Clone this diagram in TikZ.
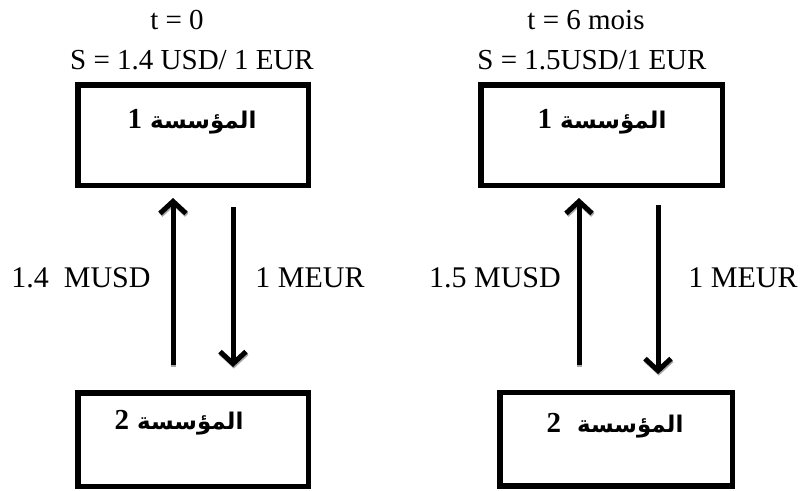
\documentclass[tikz,border=0pt]{standalone}
\usepackage{fontspec}
\setmainfont{Liberation Serif}
\newfontfamily\arabicfont[Script=Arabic]{DejaVu Sans}
\TeXXeTstate=1
\usetikzlibrary{arrows.meta}

\tikzset{
  firm/.style={draw, line width=5.5pt, inner sep=0pt, outer sep=0pt},
  firmname/.style={font=\fontsize{23}{27}\selectfont\arabicfont\bfseries, inner sep=0pt},
  header/.style={font=\fontsize{29}{33}\selectfont, inner sep=0pt},
  amount/.style={font=\fontsize{30}{34}\selectfont, inner sep=0pt},
  barb/.style={-{Straight Barb[length=12pt,width=26pt,line width=5pt]}},
  flow/.style={line width=5pt, barb},
  flowshadow/.style={line width=5pt, draw=black!35, barb}
}
% firm name: Arabic word followed (on its left) by a bold serif digit
\newcommand{\firmlabel}[2][]{\beginR المؤسسة #1{\fontsize{29}{33}\selectfont\rmfamily\bfseries #2}\endR}

\begin{document}
\begin{tikzpicture}[x=1pt, y=-1pt]
  \useasboundingbox (0,0) rectangle (800,490);

  % ---- t = 0 ----
  \node[header] (tA) at (177,20) {t = 0};
  \node[header] (sA) at (192,60) {S = 1.4 USD/ 1 EUR};
  \node[firm, minimum width=230.5pt, minimum height=100.5pt] (A1) at (193,135) {};
  \node[firm, minimum width=230.5pt, minimum height=93.5pt] (A2) at (193,439.5) {};
  \node[firmname] (A1n) at (192,122) {\firmlabel{1}};
  \node[firmname] (A2n) at (179,423) {\firmlabel{2}};

  \coordinate (Aup0) at (173,365);  \coordinate (Aup1) at (173,198);
  \coordinate (Adn0) at (233,207);  \coordinate (Adn1) at (233,367);
  \draw[flowshadow] ([shift={(0.8,1.6)}]Aup0) -- ([shift={(0.8,1.6)}]Aup1);
  \draw[flowshadow] ([shift={(0.8,1.6)}]Adn0) -- ([shift={(0.8,1.6)}]Adn1);
  \draw[flow] (Aup0) -- (Aup1);
  \draw[flow] (Adn0) -- (Adn1);
  \node[amount] (Ausd) at (81,278) {1.4\ \ MUSD};
  \node[amount] (Aeur) at (310,278) {1 MEUR};

  % ---- t = 6 mois ----
  \node[header] (tB) at (586,20) {t = 6 mois};
  \node[header] (sB) at (592,60) {S = 1.5USD/1 EUR};
  \node[firm, minimum width=241.5pt, minimum height=100.5pt] (B1) at (601.5,135) {};
  \node[firm, minimum width=232.5pt, minimum height=93.5pt] (B2) at (616,439) {};
  \node[firmname] (B1n) at (602,122) {\firmlabel{1}};
  \node[firmname] (B2n) at (615,426) {\firmlabel[\ ]{2}};

  \coordinate (Bup0) at (579,365);  \coordinate (Bup1) at (579,198);
  \coordinate (Bdn0) at (658,205);  \coordinate (Bdn1) at (658,374);
  \draw[flowshadow] ([shift={(0.8,1.6)}]Bup0) -- ([shift={(0.8,1.6)}]Bup1);
  \draw[flowshadow] ([shift={(0.8,1.6)}]Bdn0) -- ([shift={(0.8,1.6)}]Bdn1);
  \draw[flow] (Bup0) -- (Bup1);
  \draw[flow] (Bdn0) -- (Bdn1);
  \node[amount] (Busd) at (495,278) {1.5 MUSD};
  \node[amount] (Beur) at (743,278) {1 MEUR};
\end{tikzpicture}
\end{document}
